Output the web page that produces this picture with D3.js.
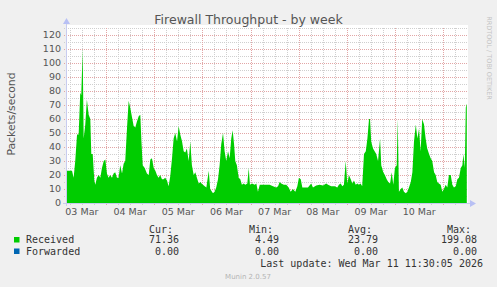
<!DOCTYPE html>
<html>
  <head>
    <title>Firewall Throughput - by week</title>
    <style>
      body { margin: 0; background: #f0f0f0; }
      text { font-family: "DejaVu Sans", sans-serif; }
      .mono { font-family: "DejaVu Sans Mono", monospace; font-size: 10px; fill: #333; }
    </style>
    <script src="https://d3js.org/d3.v7.min.js"></script>
  </head>
  <body>
    <div id="chart"></div>
    <script type="text/javascript">
      // hours since 03 Mar 2026 00:00 (UTC)
      var hours = [4.6, 7.1, 7.9, 8.7, 9.6, 10.4, 11.2, 11.7, 12.4, 12.9, 13.7, 14.5, 15.4, 16.2, 16.7, 17.4,
        18.2, 18.7, 19.5, 20.4, 21.2, 22.0, 22.9, 23.7, 24.5, 25.3, 26.1, 27.0, 27.8, 28.6, 29.5, 30.3,
        31.1, 32.0, 32.8, 33.6, 34.5, 35.3, 36.1, 37.0, 37.8, 38.6, 39.4, 40.3, 41.1, 41.6, 42.3, 43.3,
        44.4, 45.3, 46.1, 46.9, 47.8, 48.6, 49.4, 50.2, 51.0, 51.9, 52.7, 53.5, 54.4, 55.2, 56.0, 56.9,
        57.7, 58.5, 59.4, 60.2, 61.0, 61.9, 62.7, 63.5, 64.3, 65.2, 66.0, 66.8, 67.7, 68.5, 69.3, 70.2,
        71.0, 71.6, 72.3, 73.2, 74.0, 75.2, 75.9, 77.3, 78.1, 78.9, 79.8, 80.6, 81.4, 82.3, 83.1, 83.9,
        84.8, 85.6, 86.4, 87.1, 87.8, 88.4, 89.2, 90.1, 90.9, 91.7, 92.6, 93.4, 94.4, 95.1, 95.7, 96.7,
        98.1, 98.9, 99.7, 100.6, 102.2, 103.8, 105.5, 107.2, 108.8, 109.7, 110.5, 111.3, 112.6, 113.8,
        115.0, 116.0, 117.1, 118.3, 119.3, 120.1, 121.0, 121.8, 123.0, 124.6, 126.2, 127.1, 128.7, 130.4,
        132.1, 133.7, 134.6, 136.2, 137.9, 139.2, 140.0, 140.9, 141.7, 142.5, 143.4, 144.2, 145.0, 145.9,
        146.7, 147.5, 148.4, 149.2, 150.0, 150.8, 151.6, 152.5, 153.4, 154.2, 155.0, 155.5, 156.1, 157.0,
        157.8, 158.6, 159.5, 160.5, 161.1, 162.1, 162.9, 163.8, 164.6, 165.5, 166.3, 167.1, 167.9, 168.8,
        169.3, 169.9, 170.8, 171.6, 172.4, 173.3, 174.1, 174.9, 175.8, 176.6, 177.4, 178.3, 179.1, 179.9,
        180.7, 181.5, 182.4, 183.2, 184.0, 184.9, 185.7, 186.5, 187.4, 188.2, 189.0, 189.8, 190.7, 191.5,
        192.3, 193.2, 194.0, 194.8, 195.7, 196.5, 197.3, 198.2, 199.0, 199.8, 200.7, 201.5, 202.0, 202.7,
        203.2, 203.7];
      var received = [23, 23, 18, 30, 49, 49, 79, 77, 110, 46, 56, 74, 63, 60, 35, 35,
        16, 13, 18, 20, 18, 25, 30, 31, 21, 18, 20, 18, 21, 22, 18, 18,
        27, 21, 28, 30, 54, 73, 68, 61, 55, 54, 58, 62, 63, 46, 27, 25,
        21, 20, 31, 32, 25, 23, 20, 18, 20, 17, 17, 18, 16, 12, 19, 32,
        46, 50, 44, 55, 49, 44, 37, 36, 39, 30, 44, 27, 20, 22, 18, 14,
        15, 14, 13, 12, 11, 23, 10, 7, 8, 11, 17, 27, 42, 50, 37, 30,
        37, 32, 46, 52, 42, 30, 27, 18, 17, 13, 14, 13, 14, 25, 13, 14,
        13, 14, 8, 13, 13, 13, 13, 12, 11, 12, 15, 14, 13, 13,
        11, 8, 10, 8, 12, 18, 17, 11, 11, 11, 14, 11, 12.5, 13,
        12.5, 14, 13, 12, 12, 11, 13, 14, 12, 13, 30, 14, 20, 17,
        14, 16, 13, 14, 13, 14, 12, 35, 37, 46, 60, 60, 44, 39,
        37, 35, 30, 46, 27, 22, 20, 17, 15, 14, 22, 13, 25, 27,
        60, 8, 10, 11, 8, 7, 8, 11, 15, 22, 44, 56, 46, 53,
        37, 60, 56, 46, 39, 35, 32, 30, 22, 20, 15, 14, 13, 8,
        10, 13, 11, 20, 20, 13, 11, 12, 17, 18, 25, 27, 35, 25,
        68, 71];
      var forwardedHours = [4.6, 203.8];
      var forwarded = [0, 0];

      var yTicks = [0, 10, 20, 30, 40, 50, 60, 70, 80, 90, 100, 110, 120];
      var statHeaders = ["Cur:", "Min:", "Avg:", "Max:"];
      var receivedStats = ["71.36", "4.49", "23.79", "199.08"];
      var forwardedStats = ["0.00", "0.00", "0.00", "0.00"];

      var width = 497, height = 287;
      var base = Date.UTC(2026, 2, 3);
      function t(h) { return new Date(base + h * 3600000); }

      var x = d3.scaleUtc().domain([t(4.6), t(203.8)]).range([67, 467]);
      var y = d3.scaleLinear().domain([0, 125]).range([203, 28]);

      var svg = d3.select("#chart").append("svg")
        .attr("width", width)
        .attr("height", height);

      svg.append("rect").attr("width", width).attr("height", height).attr("fill", "#f0f0f0");
      svg.append("rect").attr("x", 66).attr("y", 25).attr("width", 402).attr("height", 178).attr("fill", "#fff");

      // grid
      var minorX = x.ticks(d3.utcHour.every(6));
      var majorX = x.ticks(d3.utcDay.every(1));
      var minorY = d3.range(0, 126, 5);

      svg.append("g").selectAll("line").data(minorY.filter(function(d){ return d % 10 !== 0; }))
        .enter().append("line")
        .attr("x1", 64).attr("x2", 467)
        .attr("y1", function(d){ return y(d) + 0.5; }).attr("y2", function(d){ return y(d) + 0.5; })
        .attr("stroke", "#cfcfcf").attr("stroke-dasharray", "1,1");
      svg.append("g").selectAll("line").data(minorX)
        .enter().append("line")
        .attr("x1", function(d){ return Math.round(x(d)) + 0.5; }).attr("x2", function(d){ return Math.round(x(d)) + 0.5; })
        .attr("y1", 28).attr("y2", 206)
        .attr("stroke", "#cfcfcf").attr("stroke-dasharray", "1,1");
      svg.append("g").selectAll("line").data(minorY.filter(function(d){ return d % 10 === 0 && d > 0; }))
        .enter().append("line")
        .attr("x1", 64).attr("x2", 467)
        .attr("y1", function(d){ return y(d) + 0.5; }).attr("y2", function(d){ return y(d) + 0.5; })
        .attr("stroke", "#e2a6a6").attr("stroke-dasharray", "1,1");
      svg.append("g").selectAll("line").data(majorX)
        .enter().append("line")
        .attr("x1", function(d){ return Math.round(x(d)) + 0.5; }).attr("x2", function(d){ return Math.round(x(d)) + 0.5; })
        .attr("y1", 28).attr("y2", 206)
        .attr("stroke", "#e2a6a6").attr("stroke-dasharray", "1,1");

      // areas
      var recData = hours.map(function(h, i){ return {t: t(h), v: received[i]}; });
      svg.append("path").datum(recData)
        .attr("fill", "#00cc00")
        .attr("d", d3.area().x(function(d){ return x(d.t); }).y0(y(0)).y1(function(d){ return y(d.v); }));
      var fwdData = forwardedHours.map(function(h, i){ return {t: t(h), v: forwarded[i]}; });
      svg.append("path").datum(fwdData)
        .attr("fill", "#0066b3")
        .attr("d", d3.area().x(function(d){ return x(d.t); }).y0(y(0)).y1(function(d){ return y(d.v); }));

      // axes
      svg.append("line").attr("x1", 63).attr("x2", 470).attr("y1", 203.5).attr("y2", 203.5).attr("stroke", "#c8ccf0");
      svg.append("line").attr("x1", 66.5).attr("x2", 66.5).attr("y1", 206).attr("y2", 22).attr("stroke", "#c8ccf0");
      svg.append("path").attr("d", "M470,200 L476,203.5 L470,207 Z").attr("fill", "#b8c0f4");
      svg.append("path").attr("d", "M63,24 L66.5,18 L70,24 Z").attr("fill", "#b8c0f4");

      svg.append("g").selectAll("text").data(yTicks)
        .enter().append("text")
        .attr("x", 61).attr("y", function(d){ return y(d); }).attr("dy", "0.36em")
        .attr("text-anchor", "end").attr("font-size", "9.5px").attr("fill", "#555")
        .text(function(d){ return d; });

      var noon = majorX.map(function(d){ return d3.utcHour.offset(d, -12); }).concat([d3.utcHour.offset(majorX[majorX.length - 1], 12)]);
      svg.append("g").selectAll("text").data(noon.filter(function(d){ return x(d) > 70 && x(d) < 460; }))
        .enter().append("text")
        .attr("x", function(d){ return x(d); }).attr("y", 214.5)
        .attr("text-anchor", "middle").attr("font-size", "9.5px").attr("fill", "#555")
        .text(d3.utcFormat("%d %b"));

      // titles
      svg.append("text").attr("x", 248.5).attr("y", 24).attr("text-anchor", "middle")
        .attr("font-size", "12.5px").attr("fill", "#555").text("Firewall Throughput - by week");
      svg.append("text").attr("transform", "translate(15,114) rotate(-90)").attr("text-anchor", "middle")
        .attr("font-size", "10.8px").attr("fill", "#555").text("Packets/second");
      svg.append("text").attr("transform", "translate(487,58) rotate(90)").attr("text-anchor", "middle")
        .attr("font-size", "6.5px").attr("fill", "#c4c4c4").text("RRDTOOL / TOBI OETIKER");

      // legend
      var colEnds = [173, 273, 372, 471];
      var valEnds = [179, 279, 378, 477];
      var leg = svg.append("g");
      leg.selectAll(".hdr").data(statHeaders).enter().append("text")
        .attr("class", "mono").attr("x", function(d, i){ return colEnds[i]; }).attr("y", 232.5)
        .attr("text-anchor", "end").text(function(d){ return d; });
      [["Received", "#00cc00", receivedStats, 243], ["Forwarded", "#0066b3", forwardedStats, 254.5]].forEach(function(r){
        leg.append("rect").attr("x", 14).attr("y", r[3] - 6).attr("width", 5.5).attr("height", 5.5).attr("fill", r[1]);
        leg.append("text").attr("class", "mono").attr("x", 26).attr("y", r[3]).text(r[0]);
        leg.selectAll(null).data(r[2]).enter().append("text")
          .attr("class", "mono").attr("x", function(d, i){ return valEnds[i]; }).attr("y", r[3])
          .attr("text-anchor", "end").text(function(d){ return d; });
      });
      leg.append("text").attr("class", "mono").attr("x", 483).attr("y", 267).attr("text-anchor", "end")
        .text("Last update: Wed Mar 11 11:30:05 2026");
      svg.append("text").attr("x", 248).attr("y", 279).attr("text-anchor", "middle")
        .attr("font-size", "7px").attr("fill", "#b4b4b4").text("Munin 2.0.57");
    </script>
  </body>
</html>
